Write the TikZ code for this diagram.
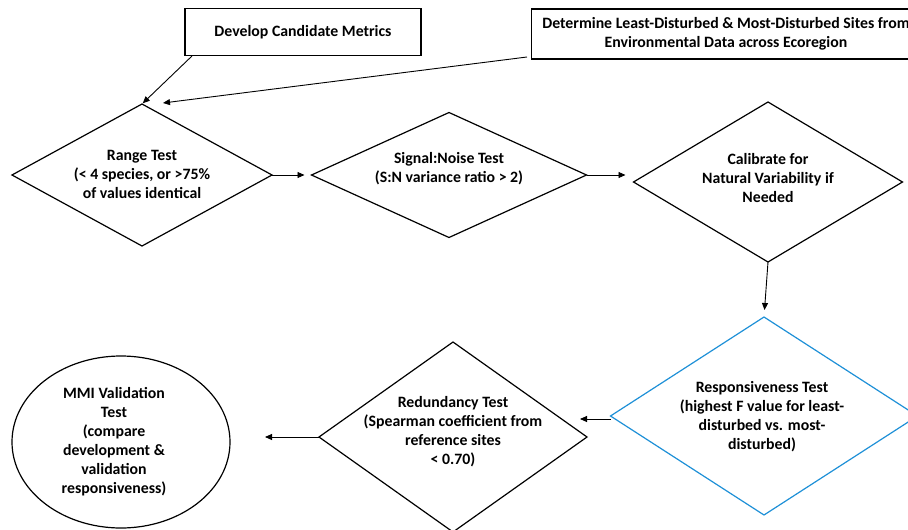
\documentclass[tikz,border=0pt]{standalone}
\usepackage{fontspec}
\setmainfont{Carlito}
\usetikzlibrary{shapes.geometric,arrows.meta}
\definecolor{diablue}{RGB}{30,144,215}
\begin{document}
\begin{tikzpicture}[x=1pt,y=-1pt,
  lbl/.style={font=\bfseries\fontsize{15.8}{19}\selectfont, align=center, inner sep=0pt},
  dia/.style={draw, shape=diamond, line width=1.2pt, inner sep=0pt, outer sep=0pt},
  boxn/.style={draw, rectangle, line width=1.2pt, inner sep=0pt, outer sep=0pt, align=center, font=\bfseries\fontsize{15.8}{19}\selectfont},
  arr/.style={line width=0.9pt, -{Triangle[length=7pt,width=6pt]}}]
\useasboundingbox (0,0) rectangle (908,530);

% boxes
\node[boxn, minimum width=236pt, minimum height=47pt] (b1) at (303,32) {Develop Candidate Metrics};
\node[boxn, minimum width=389pt, minimum height=50pt] (b2) at (726,34) {};
\node[lbl] (b2t) at (726,34) {Determine Least-Disturbed \& Most-Disturbed Sites from\\Environmental Data across Ecoregion};

% diamonds
\node[dia, minimum width=260pt, minimum height=142pt] (d1) at (142,175) {};
\node[lbl] (d1t) at (142,174) {Range Test\\(< 4 species, or >75\%\\of values identical};

\node[dia, minimum width=275pt, minimum height=125pt] (d2) at (449,175) {};
\node[lbl] (d2t) at (449,169) {Signal:Noise Test\\(S:N variance ratio > 2)};

\node[dia, minimum width=269pt, minimum height=160pt] (d3) at (768,182) {};
\node[lbl] (d3t) at (768,178) {Calibrate for\\Natural Variability if\\Needed};

\node[dia, draw=diablue, minimum width=307pt, minimum height=198pt] (d4) at (764,416) {};
\node[lbl] (d4t) at (762,417) {Responsiveness Test\\(highest F value for least-\\disturbed vs. most-\\disturbed)};

\node[dia, minimum width=268pt, minimum height=190pt] (d5) at (453,437) {};
\node[lbl] (d5t) at (453,432) {Redundancy Test\\(Spearman coefficient from\\reference sites\\< 0.70)};

% ellipse
\node[draw, ellipse, line width=1.2pt, inner sep=0pt, outer sep=0pt, minimum width=218pt, minimum height=172pt] (mmi) at (121,442) {};
\node[lbl] (mmit) at (114,442) {MMI Validation\\Test\\(compare\\development \&\\validation\\responsiveness)};

% connectors
\coordinate (a1s) at (192,56);
\draw[arr, shorten >=1pt] (a1s) -- (d1.north);
\coordinate (a2s) at (527,57);
\coordinate (a2e) at (163,103);
\draw[arr] (a2s) -- (a2e);
\draw[arr, shorten >=7pt] (d1.east) -- (d2.west);
\draw[arr, shorten >=8pt] (d2.east) -- (d2.east -| d3.west);
\draw[arr, shorten >=7pt] (d3.south) -- (d4.north);
\coordinate (a45s) at (611,419);
\coordinate (a45e) at (580,419);
\draw[arr] (a45s) -- (a45e);
\draw[arr, shorten >=35pt] (d5.west) -- (d5.west -| mmi.east);
\end{tikzpicture}
\end{document}
